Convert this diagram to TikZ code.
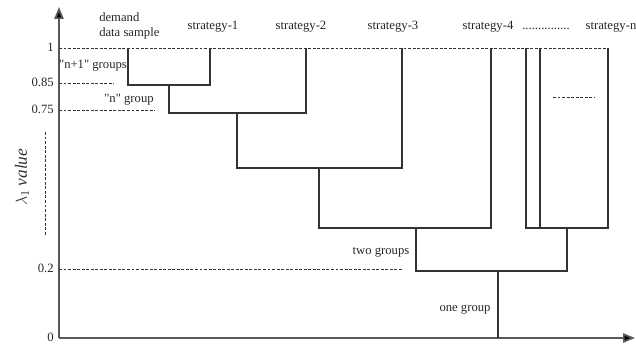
\documentclass[tikz,border=0pt]{standalone}
\usepackage{fontspec}
\setmainfont{Liberation Serif}[Ligatures=TeXOff]
\usetikzlibrary{arrows.meta}
\begin{document}
\begin{tikzpicture}[x=0.75pt,y=-0.75pt,
  lab/.style={font=\fontsize{9.5}{11.25}\selectfont, inner sep=0pt, text=black!85, text height=7pt, text depth=2pt},
  tick/.style={lab, anchor=east},
  tree/.style={line width=0.9pt, draw=black!80},
  guide/.style={dash pattern=on 2.2pt off 1.2pt, line width=0.55pt, draw=black!80},
  axis/.style={line width=1.3pt, draw=black!65, -{Triangle[length=9pt,width=7pt,fill=black]}}]
\useasboundingbox (0,0) rectangle (636,346);

% axes
\coordinate (O) at (59,338);
\coordinate (ytop) at (59,7);
\coordinate (xend) at (635,338);
\draw[axis] (O) -- (ytop);
\draw[axis] (O) -- (xend);

% tick labels
\node[tick] (t1) at (54,48) {1};
\node[tick] (t085) at (54,83) {0.85};
\node[tick] (t075) at (54,110) {0.75};
\node[tick] (t02) at (54,269) {0.2};
\node[tick] (t0) at (54,338) {0};

% guide lines
\coordinate (g1a) at (59,48);   \coordinate (g1b) at (608,48);
\coordinate (g2a) at (59,83);   \coordinate (g2b) at (114,83);
\coordinate (g3a) at (59,110);  \coordinate (g3b) at (155,110);
\coordinate (g4a) at (59,269);  \coordinate (g4b) at (402,269);
\coordinate (g5a) at (553,97);  \coordinate (g5b) at (595,97);
\coordinate (g6a) at (45,132);  \coordinate (g6b) at (45,235);
\draw[guide] (g1a) -- (g1b);
\draw[guide] (g2a) -- (g2b);
\draw[guide] (g3a) -- (g3b);
\draw[guide] (g4a) -- (g4b);
\draw[guide] (g5a) -- (g5b);
\draw[guide] (g6a) -- (g6b);

% leaves
\coordinate (L0) at (128,48);
\coordinate (L1) at (210,48);
\coordinate (L2) at (306,48);
\coordinate (L3) at (402,48);
\coordinate (L4) at (491,48);
\coordinate (L5) at (526,48);
\coordinate (L6) at (540,48);
\coordinate (L7) at (608,48);
% merges
\coordinate (m1) at (169,85);
\coordinate (m2) at (237,113);
\coordinate (m3) at (319,168);
\coordinate (m4) at (416,228);
\coordinate (m5) at (567,228);
\coordinate (m6) at (498,271);
\coordinate (root) at (498,338);

\draw[tree] (L0) -- (L0 |- m1) -- (L1 |- m1) -- (L1);
\draw[tree] (m1) -- (m1 |- m2) -- (L2 |- m2) -- (L2);
\draw[tree] (m2) -- (m2 |- m3) -- (L3 |- m3) -- (L3);
\draw[tree] (m3) -- (m3 |- m4) -- (L4 |- m4) -- (L4);
\draw[tree] (L5) -- (L5 |- m5) -- (L7 |- m5) -- (L7);
\draw[tree] (L6) -- (L6 |- m5);
\draw[tree] (m4) -- (m4 |- m6) -- (m5 |- m6) -- (m5);
\draw[tree] (m6) -- (root);

% top labels
\node[lab, anchor=west, align=left, text height=, text depth=] (dem) at (99,25.5) {demand\\data sample};
\node[lab] (s1) at (213,26) {strategy-1};
\node[lab] (s2) at (301,26) {strategy-2};
\node[lab] (s3) at (393,26) {strategy-3};
\node[lab] (s4) at (488,26) {strategy-4};
\node[lab] (dots) at (546,26) {...............};
\node[lab] (sn) at (611,26) {strategy-n};

% group labels
\node[lab] (np1) at (93,65) {"n+1" groups};
\node[lab] (ng) at (129,99) {"n" group};
\node[lab] (two) at (381,251) {two groups};
\node[lab] (one) at (465,308) {one group};

% axis title
\node[font=\fontsize{13}{15}\selectfont, text=black!80, rotate=90, inner sep=0pt] (ytitle) at (22,177) {$\lambda_1$\,\textit{value}};
\end{tikzpicture}
\end{document}
